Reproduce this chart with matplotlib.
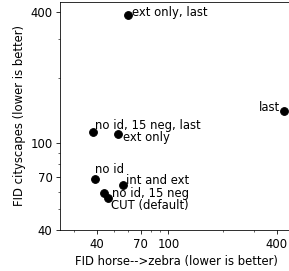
import matplotlib
matplotlib.use("Agg")
import matplotlib.pyplot as plt
from matplotlib.ticker import FixedLocator, FixedFormatter, LogLocator, NullFormatter

labels = ["ext only, last", "last", "no id, 15 neg, last", "ext only", "no id",
          "int and ext", "no id, 15 neg", "CUT (default)"]
fid_horse = [59.7, 437, 38, 52.7, 39.3, 56.2, 44, 46.4]
fid_city = [387, 140, 113, 110, 68.4, 64.1, 59.3, 56.1]
offsets = [(4, -1, 'left'), (-4, 0, 'right'), (2, 3, 'left'), (5, -7, 'left'),
           (0, 6, 'left'), (3, 1, 'left'), (8, -4, 'left'), (3, -11, 'left')]
ticks = [40, 70, 100, 400]
fs = 11.6

fig = plt.figure(figsize=(289/72, 271/72), dpi=72)
ax = fig.add_axes([60/289, 41/271, 232/289, 228/271])
ax.scatter(fid_horse, fid_city, s=60, color='black', zorder=3)
for lab, x, y, (dx, dy, ha) in zip(labels, fid_horse, fid_city, offsets):
    ax.annotate(lab, (x, y), xytext=(dx, dy), textcoords='offset points',
                ha=ha, va='baseline', fontsize=fs)
ax.set_xscale('log')
ax.set_yscale('log')
ax.set_xlim(25, 486)
ax.set_ylim(40, 445)
for axis in (ax.xaxis, ax.yaxis):
    axis.set_major_locator(FixedLocator(ticks))
    axis.set_major_formatter(FixedFormatter([str(t) for t in ticks]))
    axis.set_minor_locator(LogLocator(base=10, subs=range(2, 10)))
    axis.set_minor_formatter(NullFormatter())
ax.tick_params(labelsize=fs, length=4)
ax.tick_params(which='minor', length=2.3)
ax.set_xlabel("FID horse-->zebra (lower is better)", fontsize=fs)
ax.set_ylabel("FID cityscapes (lower is better)", fontsize=fs)
fig.savefig("out.png", dpi=72)
